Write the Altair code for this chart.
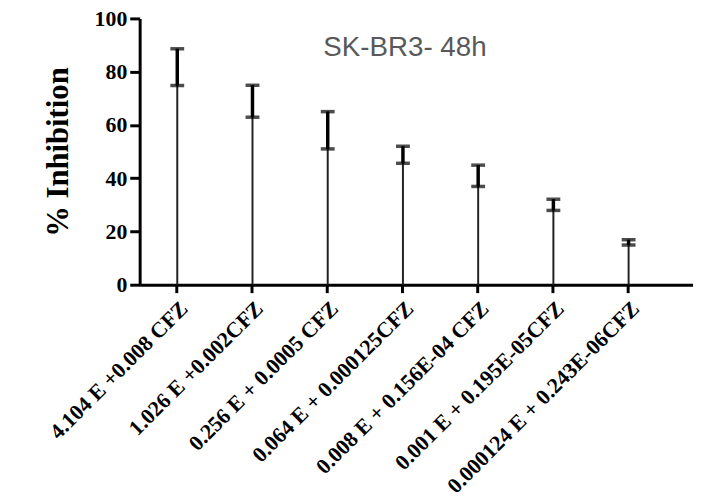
import altair as alt
import pandas as pd

labels = [
    "4.104 E +0.008 CFZ",
    "1.026 E +0.002CFZ",
    "0.256 E + 0.0005 CFZ",
    "0.064 E + 0.000125CFZ",
    "0.008 E + 0.156E-04 CFZ",
    "0.001 E + 0.195E-05CFZ",
    "0.000124 E + 0.243E-06CFZ",
]
means = [81.7, 68.9, 58.0, 48.8, 40.9, 30.0, 15.9]
errors = [6.9, 6.0, 7.0, 3.2, 4.0, 2.1, 1.0]
y_ticks = [0, 20, 40, 60, 80, 100]
title_text = ["SK-BR3- 48h"]

df = pd.DataFrame({"label": labels, "mean": means, "err": errors})
df["lower"] = df["mean"] - df["err"]
df["upper"] = df["mean"] + df["err"]
title_df = pd.DataFrame({"t": title_text})

serif = "Liberation Serif"

x_enc = alt.X(
    "label:N",
    sort=labels,
    scale=alt.Scale(paddingInner=0, paddingOuter=0.178, align=0),
    axis=alt.Axis(
        title=None,
        labelAngle=-45,
        labelAlign="right",
        labelBaseline="middle",
        labelFont=serif,
        labelFontWeight="bold",
        labelFontSize=22,
        labelColor="black",
        labelPadding=12,
        labelOffset=7,
        labelLimit=0,
        domainColor="black",
        domainWidth=3,
        tickColor="black",
        tickWidth=3,
        tickSize=8,
        labelOverlap=False,
    ),
)

y_scale = alt.Scale(domain=[0, 100], nice=False)

stems = alt.Chart(df).mark_rule(color="#222222", strokeWidth=2).encode(
    x=x_enc,
    y=alt.Y(
        "upper:Q",
        scale=y_scale,
        axis=alt.Axis(
            title="% Inhibition",
            titleFont=serif,
            titleFontWeight="bold",
            titleFontSize=31,
            titleColor="black",
            titlePadding=20,
            values=y_ticks,
            labelFont=serif,
            labelFontWeight="bold",
            labelFontSize=22,
            labelColor="black",
            labelPadding=3,
            domainColor="black",
            domainWidth=3,
            tickColor="black",
            tickWidth=3,
            tickSize=10,
            grid=False,
        ),
    ),
    y2=alt.datum(0),
)

bars = alt.Chart(df).mark_rule(color="black", strokeWidth=3.5).encode(
    x=alt.X("label:N", sort=labels),
    y=alt.Y("lower:Q", scale=y_scale),
    y2="upper:Q",
)

cap_lo = alt.Chart(df).mark_tick(color="black", thickness=3.5, size=14).encode(
    x=alt.X("label:N", sort=labels),
    y=alt.Y("lower:Q", scale=y_scale),
)
cap_hi = alt.Chart(df).mark_tick(color="black", thickness=3.5, size=14).encode(
    x=alt.X("label:N", sort=labels),
    y=alt.Y("upper:Q", scale=y_scale),
)

title_mark = alt.Chart(title_df).mark_text(
    font="Liberation Sans",
    fontSize=28,
    color="#595959",
    align="center",
    baseline="alphabetic",
).encode(
    text="t:N",
    x=alt.value(268),
    y=alt.value(38),
)

chart = (
    alt.layer(stems, bars, cap_lo, cap_hi, title_mark)
    .properties(
        width=559,
        height=269,
        autosize=alt.AutoSizeParams(type="none"),
        padding={"left": 133, "top": 8, "right": 0, "bottom": 219},
    )
    .configure_view(stroke=None)
)

chart.save("out.html", embed_options={"renderer": "svg", "actions": False})
